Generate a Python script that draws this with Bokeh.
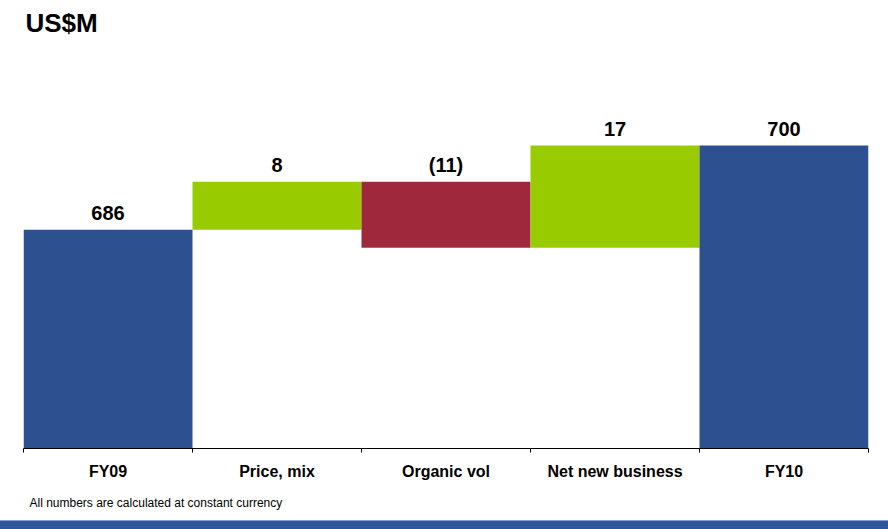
from bokeh.plotting import figure
from bokeh.models import Range1d, FixedTicker, Title, ColumnDataSource, Div
from bokeh.layouts import column
from bokeh.core.properties import value
from bokeh.embed import file_html
from bokeh.resources import INLINE

# ---- data ----
categories = ["FY09", "Price, mix", "Organic vol", "Net new business", "FY10"]
changes = [686, 8, -11, 17, 700]
kinds = ["total", "delta", "delta", "delta", "total"]
labels = ["686", "8", "(11)", "17", "700"]
title_text = "US$M"
footnote = "All numbers are calculated at constant currency"

BLUE = "#2D5090"
GREEN = "#99CC00"
RED = "#A0283C"
BAND = "#2E579B"
FONT = "Liberation Sans"

# waterfall geometry from the data
bottoms, tops, colors, label_y = [], [], [], []
running = 0
for c, k in zip(changes, kinds):
    if k == "total":
        running = c
        bottoms.append(0)
        tops.append(c)
        colors.append(BLUE)
        label_y.append(c)
    else:
        start = running
        running = running + c
        bottoms.append(min(start, running))
        tops.append(max(start, running))
        colors.append(GREEN if c >= 0 else RED)
        label_y.append(max(start, running))

xs = [i + 0.5 for i in range(len(categories))]
src = ColumnDataSource(dict(x=xs, bottom=bottoms, top=tops, color=colors,
                            ly=label_y, label=labels))

p = figure(width=888, height=520, output_backend="svg", toolbar_location=None,
           x_range=Range1d(0, len(categories)), y_range=Range1d(649.6, 717.15),
           y_axis_location=None, min_border_left=23, min_border_right=20,
           min_border_top=40, min_border_bottom=70)
p.outline_line_color = None
p.grid.grid_line_color = None
p.background_fill_color = "white"
p.border_fill_color = "white"

p.title.text = title_text
p.title.text_font = FONT
p.title.text_font_size = "26px"
p.title.text_font_style = "bold"
p.title.align = "left"
p.title.offset = 2
p.title.text_color = "black"

p.vbar(x="x", width=1.0, bottom="bottom", top="top", color="color",
       line_color=None, source=src)
p.text(x="x", y="ly", text="label", source=src, text_align="center",
       text_baseline="middle", y_offset=-17, text_font=value(FONT),
       text_font_size="20px", text_font_style="bold", text_color="black")

ax = p.xaxis[0]
ax.ticker = FixedTicker(ticks=xs, minor_ticks=list(range(len(categories) + 1)))
ax.major_label_overrides = {x: c for x, c in zip(xs, categories)}
ax.major_tick_out = 0
ax.major_tick_in = 0
ax.minor_tick_out = 4
ax.minor_tick_in = 0
ax.minor_tick_line_color = "black"
ax.axis_line_color = "black"
ax.major_label_text_font = FONT
ax.major_label_text_font_size = "16px"
ax.major_label_text_font_style = "bold"
ax.major_label_text_color = "black"
ax.major_label_standoff = 10

note = Title(text=footnote, align="left", text_font=FONT, text_font_size="12px",
             text_font_style="normal", text_color="black", offset=6, standoff=22)
p.add_layout(note, "below")

band = Div(text="", width=888, height=9, margin=0,
           styles={"background-color": BAND, "border-top": "1px solid #7F9CCB"})

layout = column(p, band, spacing=0)
open("out.html", "w").write(file_html(layout, INLINE))
